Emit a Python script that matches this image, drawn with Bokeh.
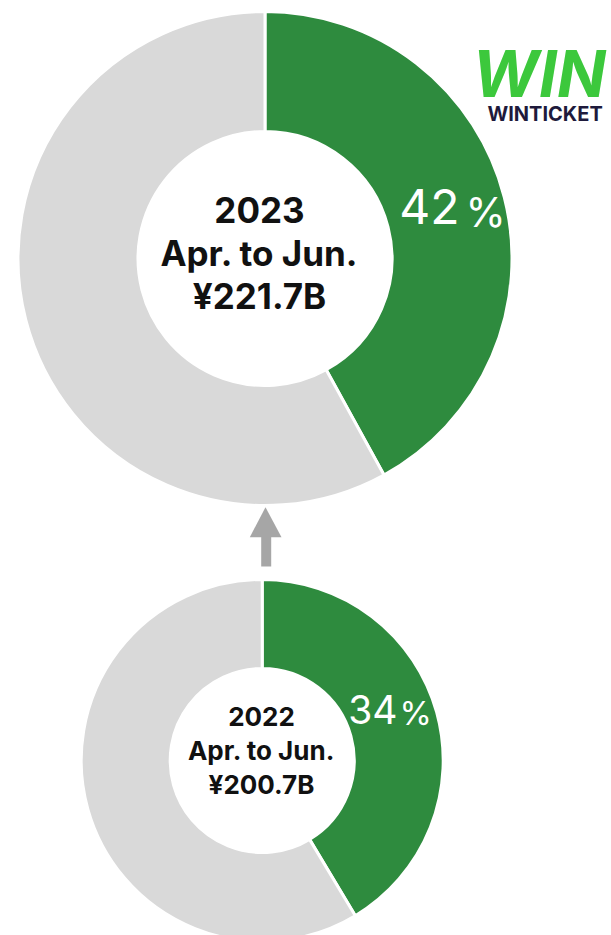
import math
from bokeh.plotting import figure
from bokeh.models import Range1d
from bokeh.core.properties import value
from bokeh.embed import file_html
from bokeh.resources import INLINE

# ---- data ----
periods = ["2023", "2022"]
period_sub = ["Apr. to Jun.", "Apr. to Jun."]
totals = ["¥221.7B", "¥200.7B"]
share_labels = ["42", "34"]          # printed shares (%)
share_drawn = [42.0, 41.4]           # shares as the wedges are drawn (%)

GREEN = "#2e8b3e"
GRAY = "#d9d9d9"
FONT = "Inter"

# layout (page pixel coords, y downward)
centers = [(264.5, 258.0), (261.7, 760.0)]
outer_r = [247.0, 181.0]
inner_r = [127.0, 92.0]
font_c = [35, 26]
line_gap = [43, 34]
first_line_y = [209, 716]
pct_font = [48, 39]
pct_sub_font = [41, 33]
pct_num_pos = [(459, 206), (397, 708.5)]
pct_sign_pos = [(465, 211), (399, 712)]
text_cx = [259.0, 261.0]

W, H = 611, 935
p = figure(width=W, height=H, x_range=Range1d(0, W), y_range=Range1d(-H, 0),
           output_backend="svg", toolbar_location=None, min_border=0)
p.axis.visible = False
p.grid.visible = False
p.outline_line_color = None
p.background_fill_color = "white"

for i in range(2):
    cx, cy = centers[i]
    s = share_drawn[i] / 100.0
    start = math.pi / 2
    end = start - s * 2 * math.pi
    p.annular_wedge(x=[cx], y=[-cy], inner_radius=inner_r[i], outer_radius=outer_r[i],
                    start_angle=[start], end_angle=[end], direction="clock",
                    fill_color=GREEN, line_color="white", line_width=3)
    p.annular_wedge(x=[cx], y=[-cy], inner_radius=inner_r[i], outer_radius=outer_r[i],
                    start_angle=[end], end_angle=[start - 2 * math.pi], direction="clock",
                    fill_color=GRAY, line_color="white", line_width=3)
    # centre text
    tx = text_cx[i]
    lines = [periods[i], period_sub[i], totals[i]]
    for k, t in enumerate(lines):
        p.text(x=[tx], y=[-(first_line_y[i] + k * line_gap[i])], text=[t], text_align="center",
               text_baseline="middle", text_font=value(FONT), text_font_style="bold",
               text_font_size=f"{font_c[i]}px", text_color="#111111")
    # percent label
    nx, ny = pct_num_pos[i]
    sx, sy = pct_sign_pos[i]
    p.text(x=[nx], y=[-ny], text=[share_labels[i]], text_align="right",
           text_baseline="middle", text_font=value(FONT), text_font_style="normal",
           text_font_size=f"{pct_font[i]}px", text_color="white")
    p.text(x=[sx], y=[-sy], text=["%"], text_align="left",
           text_baseline="middle", text_font=value(FONT), text_font_style="normal",
           text_font_size=f"{pct_sub_font[i]}px", text_color="white")

# arrow from 2022 to 2023
p.quad(left=[260.7], right=[270.7], bottom=[-566], top=[-536], fill_color="#a6a6a6", line_color=None)
p.patch(x=[249.3, 281, 265], y=[-536.7, -536.7, -506.7], fill_color="#a6a6a6", line_color=None)

# logo
p.text(x=[472], y=[-73], text=["WIN"], text_align="left", text_baseline="middle",
       text_font=value(FONT), text_font_style="bold italic", text_font_size="64px",
       text_color="#3cc83c")
p.text(x=[487], y=[-113.5], text=["WINTICKET"], text_align="left", text_baseline="middle",
       text_font=value(FONT), text_font_style="bold", text_font_size="20px",
       text_color="#1e1a3c")

open("out.html", "w").write(file_html(p, INLINE))
